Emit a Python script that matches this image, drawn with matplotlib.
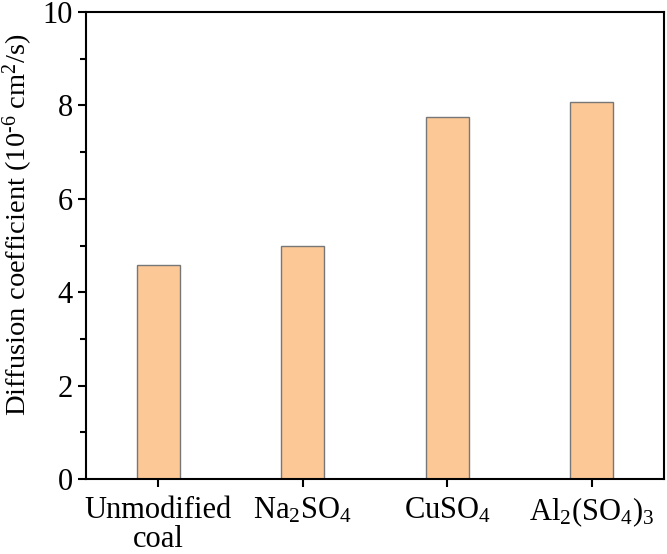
import numpy as np
import matplotlib.pyplot as plt
from matplotlib.ticker import MultipleLocator

categories = ['Unmodified\ncoal', r'Na$_2$SO$_4$', r'CuSO$_4$', r'Al$_2$(SO$_4$)$_3$']
values = [4.58, 4.98, 7.76, 8.07]

plt.rcParams['font.family'] = ['Liberation Serif', 'DejaVu Serif']
plt.rcParams['mathtext.fontset'] = 'custom'
plt.rcParams['mathtext.rm'] = 'Liberation Serif'
plt.rcParams['mathtext.it'] = 'Liberation Serif'

fig = plt.figure(figsize=(6.67, 5.54), dpi=100)
ax = fig.add_axes([86/667, 1 - 479/554, (664 - 86)/667, (479 - 12)/554])

x = np.arange(len(categories))
ax.bar(x, values, width=0.3, color='#FCC896', edgecolor='#777777', linewidth=1.0)

ax.set_xlim(-0.5, 3.5)
ax.set_ylim(0, 10)
ax.set_xticks(x)
ax.set_xticklabels(categories, linespacing=1.0)
ax.yaxis.set_major_locator(MultipleLocator(2))
ax.yaxis.set_minor_locator(MultipleLocator(1))
ax.tick_params(axis='both', which='major', direction='out', length=6, width=1.5, labelsize=22)
ax.tick_params(axis='x', which='major', pad=6)
ax.tick_params(axis='y', which='minor', direction='out', length=4, width=1.5)
for s in ax.spines.values():
    s.set_linewidth(1.5)

ax.set_ylabel(r'Diffusion coefficient (10$^{\text{-6}}$ cm$^2$/s)', fontsize=20.5)
ax.yaxis.set_label_coords(-0.088, 0.545)

fig.savefig('out.png', dpi=100)
